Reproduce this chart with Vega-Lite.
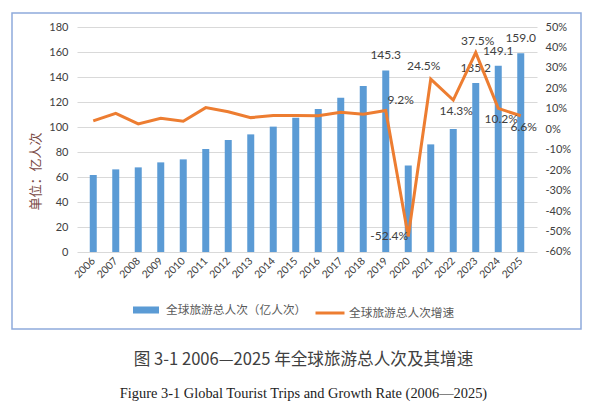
{
  "$schema": "https://vega.github.io/schema/vega-lite/v6.json",
  "width": 569,
  "height": 316,
  "autosize": {"type": "none"},
  "padding": {"left": 12, "top": 13, "right": 15, "bottom": 76},
  "title": {
    "text": "图 3-1  2006—2025 年全球旅游总人次及其增速",
    "subtitle": "Figure 3-1  Global Tourist Trips and Growth Rate (2006—2025)",
    "orient": "bottom",
    "anchor": "middle",
    "dx": 7,
    "offset": 23,
    "font": "Noto Sans CJK SC",
    "fontSize": 16.6,
    "fontWeight": "normal",
    "color": "#404040",
    "subtitleFont": "Liberation Serif",
    "subtitleFontSize": 14.4,
    "subtitleColor": "#222222",
    "subtitlePadding": 18
  },
  "data": {
    "values": [
      {"year": 2006, "trips": 61.6, "rate": 0.041},
      {"year": 2007, "trips": 66.1, "rate": 0.078},
      {"year": 2008, "trips": 67.7, "rate": 0.026},
      {"year": 2009, "trips": 71.7, "rate": 0.054},
      {"year": 2010, "trips": 74.1, "rate": 0.039},
      {"year": 2011, "trips": 82.4, "rate": 0.106},
      {"year": 2012, "trips": 89.6, "rate": 0.086},
      {"year": 2013, "trips": 94.1, "rate": 0.057},
      {"year": 2014, "trips": 100.3, "rate": 0.067},
      {"year": 2015, "trips": 107.5, "rate": 0.067},
      {"year": 2016, "trips": 114.4, "rate": 0.066},
      {"year": 2017, "trips": 123.4, "rate": 0.083},
      {"year": 2018, "trips": 132.8, "rate": 0.073},
      {"year": 2019, "trips": 145.3, "rate": 0.092},
      {"year": 2020, "trips": 69.2, "rate": -0.524},
      {"year": 2021, "trips": 86.1, "rate": 0.245},
      {"year": 2022, "trips": 98.4, "rate": 0.143},
      {"year": 2023, "trips": 135.2, "rate": 0.375},
      {"year": 2024, "trips": 149.1, "rate": 0.102},
      {"year": 2025, "trips": 159.0, "rate": 0.066}
    ]
  },
  "layer": [
    {
      "layer": [
        {
          "mark": {"type": "bar", "size": 7},
          "encoding": {
            "x": {
              "field": "year",
              "type": "quantitative",
              "scale": {"domain": [2005.5, 2025.5], "range": [65, 525], "nice": false, "zero": false},
              "axis": {
                "offset": -77,
                "values": [2006, 2007, 2008, 2009, 2010, 2011, 2012, 2013, 2014, 2015, 2016, 2017, 2018, 2019, 2020, 2021, 2022, 2023, 2024, 2025],
                "tickCount": 40,
                "format": "d",
                "labelAngle": -45,
                "labelAlign": "right",
                "labelBaseline": "middle",
                "labelPadding": 7,
                "labelFontSize": 10.5,
                "labelOverlap": false,
                "labelBound": false,
                "title": null
              }
            },
            "y": {
              "field": "trips",
              "type": "quantitative",
              "scale": {"domain": [-61.6, 191.2], "nice": false, "zero": false},
              "axis": {
                "orient": "left",
                "offset": -65,
                "values": [0, 20, 40, 60, 80, 100, 120, 140, 160, 180],
                "tickCount": 40,
                "labelPadding": 9,
                "grid": true,
                "gridColor": "#D9D9D9",
                "gridWidth": 1,
                "title": "单位：亿人次",
                "titleFont": "Noto Sans CJK SC",
                "titleFontSize": 13,
                "titleFontWeight": "normal",
                "titleColor": "#7a4a45",
                "titlePadding": 6
              }
            },
            "y2": {"datum": 0},
            "color": {
              "datum": "全球旅游总人次（亿人次）",
              "scale": {"range": ["#5B9BD5"]},
              "legend": {
                "orient": "none",
                "legendX": 121,
                "legendY": 284,
                "direction": "horizontal",
                "title": null,
                "padding": 0,
                "symbolType": "M-1,-0.27H1V0.27H-1Z",
                "symbolSize": 676,
                "symbolStrokeWidth": 0,
                "labelFont": "Noto Sans CJK SC",
                "labelFontSize": 11.7,
                "labelColor": "#595959",
                "labelOffset": 7
              }
            }
          }
        },
        {
          "transform": [{"filter": {"field": "year", "oneOf": [2019, 2023, 2024, 2025]}}],
          "mark": {"type": "text", "dy": -15, "baseline": "middle", "fontSize": 12, "color": "#404040", "font": "Lato"},
          "encoding": {
            "x": {"field": "year", "type": "quantitative"},
            "y": {"field": "trips", "type": "quantitative"},
            "text": {"field": "trips", "type": "quantitative", "format": ".1f"}
          }
        }
      ]
    },
    {
      "layer": [
        {
          "mark": {"type": "line", "strokeWidth": 3},
          "encoding": {
            "x": {"field": "year", "type": "quantitative"},
            "y": {
              "field": "rate",
              "type": "quantitative",
              "scale": {"domain": [-0.9765, 0.5685], "nice": false, "zero": false},
              "axis": {
                "orient": "right",
                "offset": -44,
                "values": [-0.6, -0.5, -0.4, -0.3, -0.2, -0.1, 0, 0.1, 0.2, 0.3, 0.4, 0.5],
                "tickCount": 40,
                "format": ".0%",
                "labelPadding": 8,
                "title": null
              }
            },
            "stroke": {
              "datum": "全球旅游总人次增速",
              "scale": {"range": ["#ED7D31"]},
              "legend": {
                "orient": "none",
                "legendX": 302,
                "legendY": 284,
                "direction": "horizontal",
                "title": null,
                "padding": 0,
                "symbolType": "stroke",
                "symbolSize": 841,
                "symbolStrokeWidth": 3,
                "labelFont": "Noto Sans CJK SC",
                "labelFontSize": 11.7,
                "labelColor": "#595959",
                "labelOffset": 3
              }
            }
          }
        },
        {
          "transform": [{"filter": {"field": "year", "oneOf": [2019]}}],
          "mark": {"type": "text", "dx": 15, "dy": -10, "baseline": "middle", "fontSize": 12, "color": "#404040", "font": "Lato"},
          "encoding": {
            "x": {"field": "year", "type": "quantitative"},
            "y": {"field": "rate", "type": "quantitative"},
            "text": {"field": "rate", "type": "quantitative", "format": ".1%"}
          }
        },
        {
          "transform": [{"filter": {"field": "year", "oneOf": [2020]}}],
          "mark": {"type": "text", "dx": -19, "dy": 0, "baseline": "middle", "fontSize": 12, "color": "#404040", "font": "Lato"},
          "encoding": {
            "x": {"field": "year", "type": "quantitative"},
            "y": {"field": "rate", "type": "quantitative"},
            "text": {"field": "rate", "type": "quantitative", "format": ".1%"}
          }
        },
        {
          "transform": [{"filter": {"field": "year", "oneOf": [2021]}}],
          "mark": {"type": "text", "dx": -7, "dy": -13, "baseline": "middle", "fontSize": 12, "color": "#404040", "font": "Lato"},
          "encoding": {
            "x": {"field": "year", "type": "quantitative"},
            "y": {"field": "rate", "type": "quantitative"},
            "text": {"field": "rate", "type": "quantitative", "format": ".1%"}
          }
        },
        {
          "transform": [{"filter": {"field": "year", "oneOf": [2023]}}],
          "mark": {"type": "text", "dx": 2, "dy": -12, "baseline": "middle", "fontSize": 12, "color": "#404040", "font": "Lato"},
          "encoding": {
            "x": {"field": "year", "type": "quantitative"},
            "y": {"field": "rate", "type": "quantitative"},
            "text": {"field": "rate", "type": "quantitative", "format": ".1%"}
          }
        },
        {
          "transform": [{"filter": {"field": "year", "oneOf": [2022, 2024, 2025]}}],
          "mark": {"type": "text", "dx": 3, "dy": 11, "baseline": "middle", "fontSize": 12, "color": "#404040", "font": "Lato"},
          "encoding": {
            "x": {"field": "year", "type": "quantitative"},
            "y": {"field": "rate", "type": "quantitative"},
            "text": {"field": "rate", "type": "quantitative", "format": ".1%"}
          }
        }
      ]
    }
  ],
  "resolve": {"scale": {"y": "independent"}},
  "config": {
    "view": {"stroke": "#8FAADC", "strokeWidth": 1.5},
    "axis": {
      "labelFont": "Lato",
      "labelFontSize": 11,
      "labelColor": "#404040",
      "domain": false,
      "ticks": false,
      "grid": false
    },
    "locale": {
      "number": {"decimal": ".", "thousands": ",", "grouping": [3], "currency": ["$", ""], "minus": "-"}
    }
  }
}
